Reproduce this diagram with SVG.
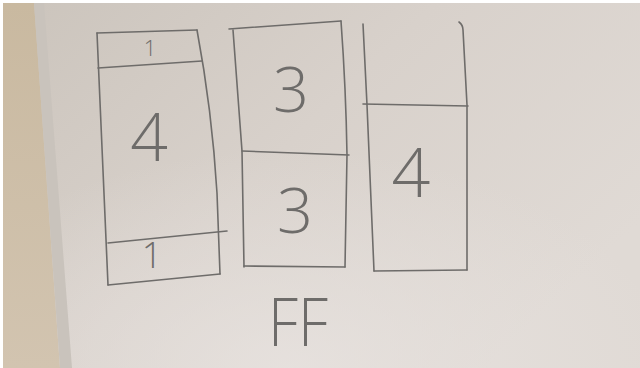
<svg xmlns="http://www.w3.org/2000/svg" width="640" height="368" viewBox="0 0 640 368">
  <defs>
    <linearGradient id="board" x1="0" y1="0" x2="1" y2="0.6">
      <stop offset="0" stop-color="#cbc4bc"/>
      <stop offset="0.5" stop-color="#d8d1cb"/>
      <stop offset="1" stop-color="#e0dad5"/>
    </linearGradient>
    <linearGradient id="wall" x1="0" y1="0" x2="0" y2="1">
      <stop offset="0" stop-color="#c9b9a0"/>
      <stop offset="1" stop-color="#d2c4b0"/>
    </linearGradient>
    <radialGradient id="glow" cx="0.45" cy="1" r="0.6">
      <stop offset="0" stop-color="#e8e3e0" stop-opacity="0.8"/>
      <stop offset="1" stop-color="#e8e3e0" stop-opacity="0"/>
    </radialGradient>
  </defs>
  <style>
    .pen { fill: none; stroke: #6e6c6a; stroke-width: 1.6; stroke-linecap: round; stroke-linejoin: round; }
    .num { font-family: "Open Sans", "Liberation Sans", sans-serif; font-weight: 300; fill: #6e6c6a; text-anchor: middle; }
  </style>
  <rect x="0" y="0" width="640" height="368" fill="#ffffff"/>
  <rect x="3" y="3" width="637" height="365" fill="url(#board)"/>
  <rect x="3" y="3" width="637" height="365" fill="url(#glow)"/>
  <polygon points="3,3 34,3 60,368 3,368" fill="url(#wall)"/>
  <polygon points="34,3 44,3 72,368 60,368" fill="#c9c3bc"/>

  <g id="box-left">
    <path class="pen" d="M97,33 L197,30"/>
    <path class="pen" d="M98,68 L202,61"/>
    <path class="pen" d="M97,33 L108,285"/>
    <path class="pen" d="M197,30 Q212,110 217,193 L220,274"/>
    <path class="pen" d="M108,243 L227,231"/>
    <path class="pen" d="M108,285 L220,274"/>
    <text class="num" x="150" y="56" font-size="22">1</text>
    <text class="num" x="149" y="161" font-size="66">4</text>
    <text class="num" x="152" y="268" font-size="36">1</text>
  </g>

  <g id="box-middle">
    <path class="pen" d="M229,29 L341,21"/>
    <path class="pen" d="M233,30 L242,151 L244,267"/>
    <path class="pen" d="M341,21 Q346,90 347,155 L345,267"/>
    <path class="pen" d="M242,151 L349,155"/>
    <path class="pen" d="M244,266 L345,267"/>
    <text class="num" x="291" y="112" font-size="63">3</text>
    <text class="num" x="295" y="233" font-size="63">3</text>
  </g>

  <g id="box-right">
    <path class="pen" d="M363,24 L367,105 L374,271"/>
    <path class="pen" d="M459,22 Q463,25 463,30 L467,105 L467,270"/>
    <path class="pen" d="M363,104 L468,106"/>
    <path class="pen" d="M374,271 L467,270"/>
    <text class="num" x="411" y="197" font-size="68">4</text>
  </g>

  <g id="label">
    <text class="num" x="298" y="346" font-size="66" textLength="60" lengthAdjust="spacingAndGlyphs">FF</text>
  </g>
</svg>
